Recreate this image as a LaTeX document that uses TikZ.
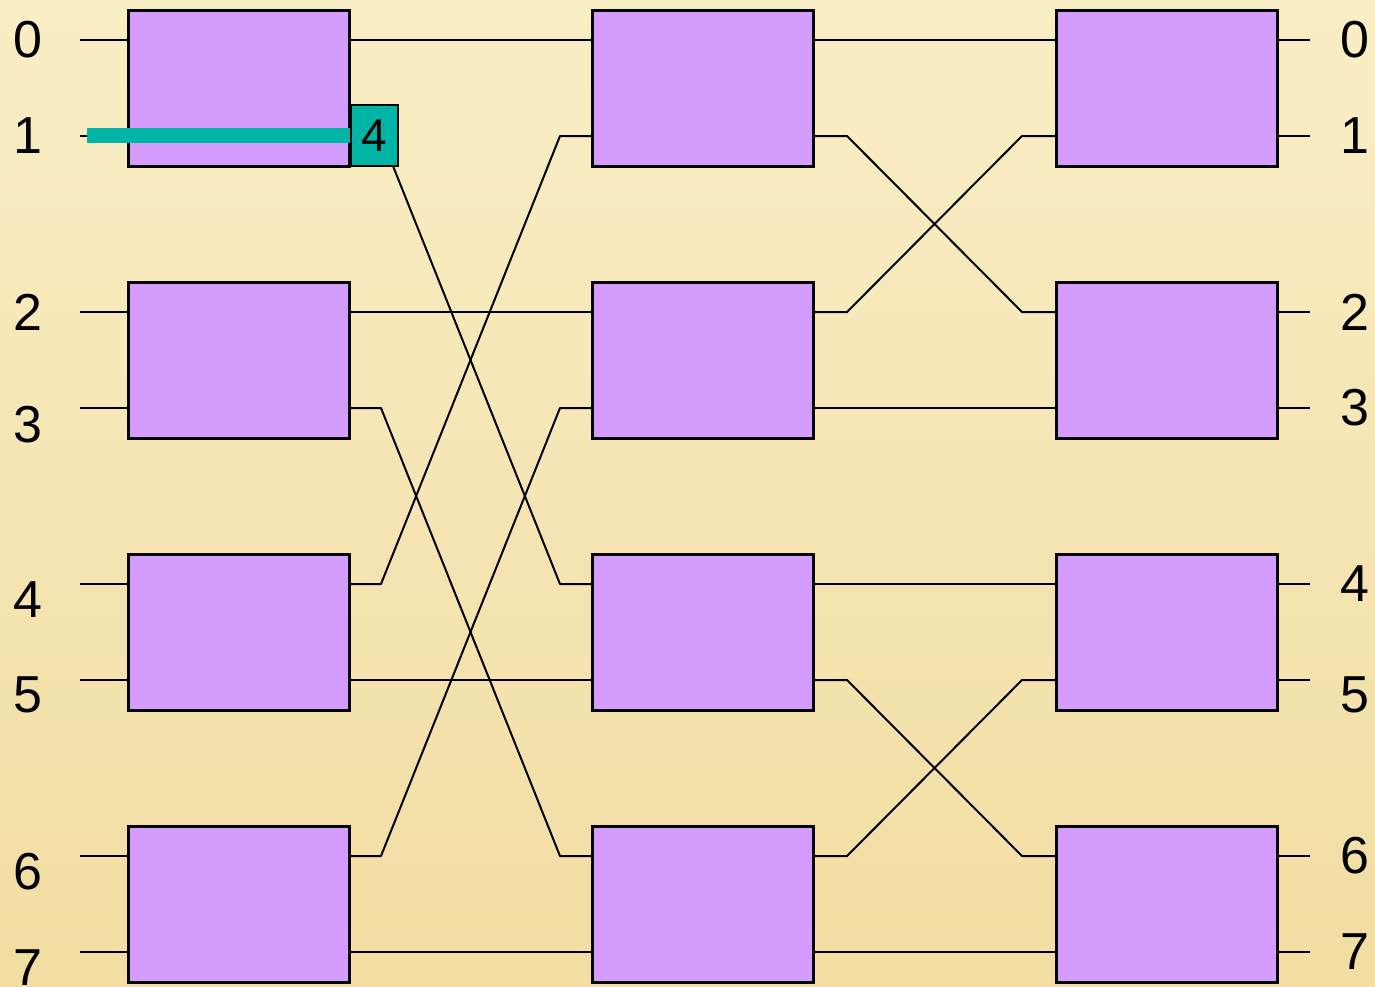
\documentclass[tikz,border=0pt]{standalone}
\usepackage{fontspec}
\setmainfont{Liberation Sans}
\definecolor{bgtop}{HTML}{FAEEC6}
\definecolor{bgbot}{HTML}{F2DDA2}
\definecolor{boxpurple}{HTML}{D49DFD}
\definecolor{tealc}{HTML}{00B4A6}
\begin{document}
\begin{tikzpicture}[x=0.5pt,y=-0.5pt,
  sw/.style={draw=black, line width=1.5pt, fill=boxpurple, minimum width=110.5pt, minimum height=78pt, inner sep=0pt},
  wire/.style={line width=1pt, line join=round},
  lab/.style={font=\fontsize{26}{26}\selectfont, inner sep=0pt},
  tagbox/.style={draw=black, line width=1pt, fill=tealc, minimum width=23.5pt, minimum height=30.5pt, inner sep=0pt, font=\fontsize{23}{23}\selectfont}]
\shade[top color=bgtop, bottom color=bgbot] (0,0) rectangle (1375,986);
\useasboundingbox (0,0) rectangle (1375,986);
% switch boxes
\foreach \c/\xc in {1/238.5,2/702.5,3/1166.5}
  \foreach \r/\yc in {0/88,1/360,2/632,3/904}
    \node[sw] (b\c\r) at (\xc,\yc) {};
% ports
\foreach \c/\xl/\xr in {1/128/349,2/592/813,3/1056/1277}
  \foreach \k/\y in {0/40,1/136,2/312,3/408,4/584,5/680,6/856,7/952} {
    \coordinate (i\c\k) at (\xl,\y);
    \coordinate (o\c\k) at (\xr,\y);
  }
\foreach \k/\y in {0/40,1/136,2/312,3/408,4/584,5/680,6/856,7/952} {
  \coordinate (s\k) at (80,\y);
  \coordinate (e\k) at (1310,\y);
  \draw[wire] (s\k) -- (i1\k);
  \draw[wire] (o3\k) -- (e\k);
}
% stage 1 -> 2
\foreach \a/\b in {0/0,1/4,2/2,3/6,4/1,5/5,6/3,7/7}
  \draw[wire] (o1\a) -- ++(32,0) -- ([xshift=-16pt]i2\b) -- (i2\b);
% stage 2 -> 3
\foreach \a/\b in {0/0,1/2,2/1,3/3,4/4,5/6,6/5,7/7}
  \draw[wire] (o2\a) -- ++(34,0) -- ([xshift=-17pt]i3\b) -- (i3\b);
% highlight
\fill[tealc] (87,128) rectangle (350,143);
\node[tagbox] (tag) at (374,135.5) {4};
% labels
\foreach \k/\y in {0/40,1/136,2/312,3/425,4/600,5/695,6/872,7/968}
  \node[lab] (l\k) at (28,\y) {\k};
\foreach \k/\y in {0/40,1/136,2/312,3/408,4/584,5/695,6/856,7/952}
  \node[lab] (r\k) at (1355,\y) {\k};
\end{tikzpicture}
\end{document}
